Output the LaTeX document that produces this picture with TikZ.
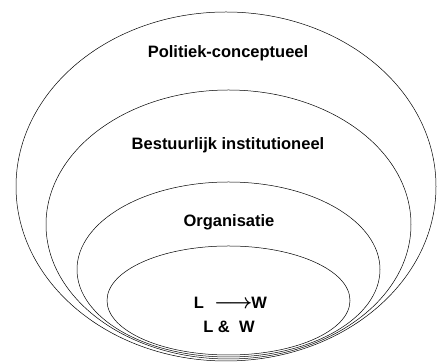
\documentclass[tikz,border=0pt]{standalone}
\usepackage{amsmath,bm}
\usepackage{fontspec}
\setmainfont{Liberation Sans}
\usetikzlibrary{shapes.geometric}

\begin{document}
\begin{tikzpicture}[x=1pt,y=1pt]

        \useasboundingbox (0,0) rectangle (442,363);

        \begin{scope}[every node/.style={ellipse,draw,line width=.5pt,inner sep=0pt}]
          \node[minimum width=420pt,minimum height=349pt] (politiek)    at (226,176.5) {};
          \node[minimum width=365pt,minimum height=269pt] (bestuur)     at (228.5,138.5) {};
          \node[minimum width=303pt,minimum height=175pt] (organisatie) at (228.5,93.5) {};
          \node[minimum width=243pt,minimum height=109pt] (lw)          at (228.5,62.5) {};
        \end{scope}

        \begin{scope}[every node/.style={font=\fontsize{16.5}{19}\selectfont\bfseries}]
          \node (t1) at (228,310) {Politiek-conceptueel};
          \node (t2) at (228,218) {Bestuurlijk institutioneel};
          \node (t3) at (229,141) {Organisatie};
          \node (t4) at (230.5,60) {L\hspace{10pt}\raisebox{-.5pt}{\scalebox{1.2}{$\bm{\longrightarrow}$}}\hspace{-1pt}W};
          \node (t5) at (229,36)  {L \&\ \ W};
        \end{scope}

      \end{tikzpicture}
\end{document}
